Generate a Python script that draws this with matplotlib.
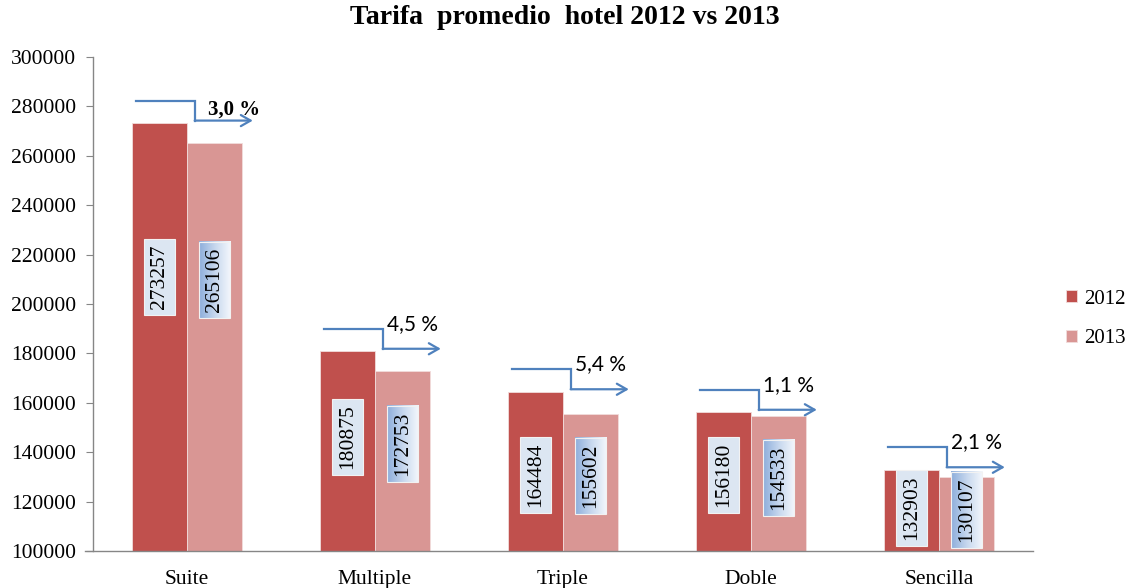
import numpy as np
import matplotlib
matplotlib.use("Agg")
import matplotlib.pyplot as plt
from matplotlib.colors import LinearSegmentedColormap

categories = ["Suite", "Multiple", "Triple", "Doble", "Sencilla"]
series_names = ["2012", "2013"]
values_2012 = [273257, 180875, 164484, 156180, 132903]
values_2013 = [265106, 172753, 155602, 154533, 130107]
pct_labels = ["3,0 %", "4,5 %", "5,4 %", "1,1 %", "2,1 %"]
yticks = [100000, 120000, 140000, 160000, 180000, 200000, 220000, 240000, 260000, 280000, 300000]

# label box centres (position/style)
label_y_2012 = [210900, 146200, 130800, 130800, 117400]
label_y_2013 = [209700, 143300, 130400, 129600, 116600]

C2012 = "#c0504d"
C2013 = "#d99694"
ARROW = "#4f81bd"
SERIF = ["Liberation Serif", "DejaVu Serif"]
SANS = ["Lato", "DejaVu Sans"]

fig = plt.figure(figsize=(11.29, 5.88), dpi=100)
ax = fig.add_axes([93 / 1129, 1 - 551 / 588, 940 / 1129, (551 - 57) / 588])

x = np.arange(len(categories))
w = 0.29
ax.bar(x - w / 2, values_2012, w, color=C2012, edgecolor="#f2dcdb", linewidth=0.6, zorder=2, label=series_names[0])
ax.bar(x + w / 2, values_2013, w, color=C2013, edgecolor="#f2dcdb", linewidth=0.6, zorder=2, label=series_names[1])

ax.set_xlim(-0.5, len(categories) - 0.5)
ax.set_ylim(100000, 300000)
ax.set_yticks(yticks)
ax.set_yticklabels([str(v) for v in yticks], fontfamily=SERIF, fontsize=15.5)
ax.set_xticks(x)
ax.set_xticklabels(categories, fontfamily=SERIF, fontsize=15.5)
ax.tick_params(axis="x", length=0, pad=14)
ax.tick_params(axis="y", length=5, color="#868686", pad=7, direction="out")
for s in ["top", "right"]:
    ax.spines[s].set_visible(False)
for s in ["left", "bottom"]:
    ax.spines[s].set_color("#868686")
    ax.spines[s].set_linewidth(1.0)
ax.spines["bottom"].set_bounds(-0.5 - 0.04, len(categories) - 0.5)

# value label boxes
box_w = 0.165
box_h = 31000
grad = LinearSegmentedColormap.from_list("g", ["#8eaedb", "#c6d7ee", "#f4f7fc"])
gradimg = np.linspace(0, 1, 64).reshape(1, -1)
for i in range(len(categories)):
    # 2012
    cx = x[i] - w / 2
    cy = label_y_2012[i]
    ax.add_patch(plt.Rectangle((cx - box_w / 2, cy - box_h / 2), box_w, box_h,
                               facecolor="#dce6f2", edgecolor="#f2f2f2", linewidth=0.8, zorder=3))
    ax.text(cx, cy, str(values_2012[i]), rotation=90, ha="center", va="center",
            fontfamily=SERIF, fontsize=15.5, zorder=4)
    # 2013
    cx = x[i] + w / 2
    cy = label_y_2013[i]
    ax.imshow(gradimg, cmap=grad, aspect="auto", zorder=3,
              extent=(cx - box_w / 2, cx + box_w / 2, cy - box_h / 2, cy + box_h / 2))
    ax.add_patch(plt.Rectangle((cx - box_w / 2, cy - box_h / 2), box_w, box_h,
                               facecolor="none", edgecolor="#f2f2f2", linewidth=0.8, zorder=3.5))
    ax.text(cx, cy, str(values_2013[i]), rotation=90, ha="center", va="center",
            fontfamily=SERIF, fontsize=15.5, zorder=4)

# bent arrows with percentage labels
for i in range(len(categories)):
    top = values_2012[i] + 9000
    low = values_2012[i] + 1000
    x0 = x[i] - 0.27
    xb = x[i] + 0.045
    x1 = x[i] + 0.35
    ax.plot([x0, xb, xb], [top, top, low], color=ARROW, lw=1.6, zorder=5, solid_joinstyle="miter")
    ax.annotate("", xy=(x1, low), xytext=(xb - 0.004, low),
                arrowprops=dict(arrowstyle="->,head_length=0.7,head_width=0.4", color=ARROW, lw=1.6,
                                shrinkA=0, shrinkB=0), zorder=5)
    if i == 0:
        ax.text(x[i] + 0.25, values_2012[i] + 5400, pct_labels[i], ha="center", va="center",
                fontfamily=SERIF, fontsize=15, fontweight="bold", zorder=6)
    else:
        ax.text(x[i] + 0.2, top + 2000, pct_labels[i], ha="center", va="center",
                fontfamily=SANS, fontsize=15, zorder=6)

ax.set_xlim(-0.5, len(categories) - 0.5)
ax.set_ylim(100000, 300000)

fig.text(0.5, 1 - 18 / 588, "Tarifa  promedio  hotel 2012 vs 2013", ha="center", va="center",
         fontfamily=SERIF, fontsize=20, fontweight="bold")

leg = fig.legend(loc="center left", bbox_to_anchor=(1066 / 1129, 1 - 319 / 588), frameon=False,
                 prop={"family": SERIF, "size": 15}, handlelength=0.55, handleheight=0.55,
                 handletextpad=0.3, labelspacing=1.0, borderpad=0, borderaxespad=0)

fig.savefig("out.png", dpi=100)
